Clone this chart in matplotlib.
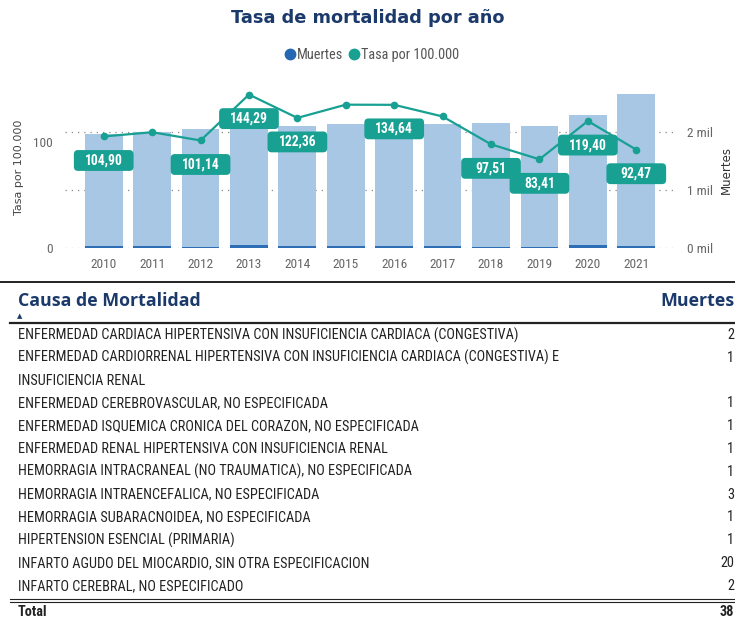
import matplotlib
matplotlib.use('Agg')
import matplotlib.pyplot as plt
import numpy as np
from matplotlib import font_manager
from matplotlib.lines import Line2D
from matplotlib.patches import FancyBboxPatch
from matplotlib.text import Text
from matplotlib.offsetbox import DrawingArea, AnnotationBbox
from matplotlib.ticker import FuncFormatter

# --- data ---
years = [2010, 2011, 2012, 2013, 2014, 2015, 2016, 2017, 2018, 2019, 2020, 2021]
muertes_total = [1966, 2005, 2060, 2110, 2103, 2145, 2140, 2145, 2155, 2103, 2293, 2655]
muertes_sel = [30, 30, 25, 45, 30, 35, 40, 35, 25, 25, 45, 30]
tasa = [104.90, 108.9, 101.14, 144.29, 122.36, 134.8, 134.64, 123.7, 97.51, 83.41, 119.40, 92.47]
years_labelled = [2010, 2012, 2013, 2014, 2016, 2018, 2019, 2020, 2021]

causas = [
    'ENFERMEDAD CARDIACA HIPERTENSIVA CON INSUFICIENCIA CARDIACA (CONGESTIVA)',
    'ENFERMEDAD CARDIORRENAL HIPERTENSIVA CON INSUFICIENCIA CARDIACA (CONGESTIVA) E\nINSUFICIENCIA RENAL',
    'ENFERMEDAD CEREBROVASCULAR, NO ESPECIFICADA',
    'ENFERMEDAD ISQUEMICA CRONICA DEL CORAZON, NO ESPECIFICADA',
    'ENFERMEDAD RENAL HIPERTENSIVA CON INSUFICIENCIA RENAL',
    'HEMORRAGIA INTRACRANEAL (NO TRAUMATICA), NO ESPECIFICADA',
    'HEMORRAGIA INTRAENCEFALICA, NO ESPECIFICADA',
    'HEMORRAGIA SUBARACNOIDEA, NO ESPECIFICADA',
    'HIPERTENSION ESENCIAL (PRIMARIA)',
    'INFARTO AGUDO DEL MIOCARDIO, SIN OTRA ESPECIFICACION',
    'INFARTO CEREBRAL, NO ESPECIFICADO',
]
muertes_causa = [2, 1, 1, 1, 1, 1, 3, 1, 1, 20, 2]
total_muertes = 38

NAVY = '#1B3A6B'
TEAL = '#18A093'
LIGHT = '#A7C7E5'
BLUE = '#2E6EB5'
GREY = '#666666'

installed = {f.name for f in font_manager.fontManager.ttflist}
narrow = next((f for f in ['Liberation Sans Narrow', 'Roboto Condensed', 'Open Sans Condensed', 'Roboto']
               if f in installed), 'DejaVu Sans')
head_font = 'Open Sans' if 'Open Sans' in installed else 'DejaVu Sans'

W, H = 735, 621
fig = plt.figure(figsize=(W / 100, H / 100), dpi=100)
renderer = fig.canvas.get_renderer()


def fx(px):
    return px / W


def fy(py):
    return 1 - py / H


def fit(s, width_px, **kw):
    # font size that makes s about width_px wide
    t = fig.text(0, 0, s, fontsize=10, **kw)
    w = t.get_window_extent(renderer).width
    t.remove()
    return 10 * width_px / w


# title + legend
fig.text(0.5, fy(18), 'Tasa de mortalidad por año', ha='center', va='center', color=NAVY,
         fontweight='bold', fontsize=fit('Tasa de mortalidad por año', 275, fontweight='bold'))
leg_size = fit('Tasa por 100.000', 98, family=narrow)
handles = [Line2D([], [], ls='', marker='o', ms=7.5, color='#2567B2'),
           Line2D([], [], ls='', marker='o', ms=7.5, color=TEAL)]
fig.legend(handles, ['Muertes', 'Tasa por 100.000'], loc='center', bbox_to_anchor=(fx(372), fy(55)),
           ncol=2, frameon=False, handlelength=0.7, handletextpad=0.15, columnspacing=0.4,
           prop={'family': narrow, 'size': leg_size}, labelcolor='#555555')

# --- combo chart ---
ax = fig.add_axes([fx(65), fy(248), fx(610), 168 / H])
ax2 = ax.twinx()
x = np.arange(len(years))

ax2.bar(x, muertes_total, width=0.78, color=LIGHT, zorder=2)
ax2.bar(x, muertes_sel, width=0.78, color=BLUE, zorder=3)
ax2.set_ylim(0, 2897)
ax2.set_yticks([0, 1000, 2000])
ax2.yaxis.set_major_formatter(FuncFormatter(lambda v, p: f'{v / 1000:.0f} mil'))
ax2.grid(axis='y', ls=(0, (1, 4)), color='#888888', lw=0.9)
ax2.set_axisbelow(True)

ax.set_zorder(ax2.get_zorder() + 1)
ax.patch.set_visible(False)
ax.plot(x, tasa, color=TEAL, lw=1.6, marker='o', ms=4.5, zorder=3)
ax.set_ylim(0, 158)
ax.set_yticks([0, 100])
ax.set_xlim(-0.8, 11.8)
ax.set_xticks(x, [str(y) for y in years])

tick_size = fit('2010', 26, family=narrow)
for a in (ax, ax2):
    for s in a.spines.values():
        s.set_visible(False)
    a.tick_params(length=0, colors=GREY, labelsize=tick_size)
    for t in a.get_xticklabels() + a.get_yticklabels():
        t.set_family(narrow)
ax.tick_params(axis='x', pad=7)
ax.tick_params(axis='y', pad=9)
ax2.tick_params(axis='y', pad=9)

fig.text(fx(19), fy(167), 'Tasa por 100.000', rotation=90, ha='center', va='center',
         color='#444444', fontsize=8, fontweight='medium')
fig.text(fx(726), fy(170), 'Muertes', rotation=90, ha='center', va='center',
         color='#333333', fontsize=8.5, fontweight='medium')


def tag(xv, yv, s):
    w, h = 43, 15
    da = DrawingArea(w, h, 0, 0)
    da.add_artist(FancyBboxPatch((0, 0), w, h, boxstyle='round,pad=0,rounding_size=3',
                                 fc=TEAL, ec='none'))
    da.add_artist(Text(w / 2, h / 2, s, ha='center', va='center', color='white',
                       fontsize=tick_size * 1.02, fontweight='bold', family=narrow))
    ab = AnnotationBbox(da, (xv, yv), xybox=(0, -17.3), boxcoords='offset points',
                        frameon=False, pad=0, zorder=5)
    ax.add_artist(ab)


for i, yr in enumerate(years):
    if yr in years_labelled:
        tag(x[i], tasa[i], f'{tasa[i]:.2f}'.replace('.', ','))

# --- table ---
def hline(y, x0, x1, lw=1.2, color='#222222'):
    fig.add_artist(Line2D([fx(x0), fx(x1)], [fy(y), fy(y)], color=color, lw=lw))


hline(282, 0, 735, lw=1.4)
head_size = fit('Causa de Mortalidad', 182, family=head_font, fontweight='bold')
fig.text(fx(18), fy(301), 'Causa de Mortalidad', ha='left', va='center', color=NAVY,
         fontweight='bold', family=head_font, fontsize=head_size)
fig.text(fx(734), fy(301), 'Muertes', ha='right', va='center', color=NAVY,
         fontweight='bold', family=head_font, fontsize=head_size)
fig.text(fx(20), fy(316), '▲', ha='center', va='center', color=NAVY, fontsize=5)
hline(323, 10, 735, lw=1.6)

row_size = fit(causas[0], 501, family=narrow)
step = 22.8
line = 0
for causa, m in zip(causas, muertes_causa):
    y0 = 335 + step * line
    fig.text(fx(734), fy(y0), str(m), ha='right', va='center', color='#222222',
             family=narrow, fontsize=row_size)
    for part in causa.split('\n'):
        fig.text(fx(18), fy(335 + step * line), part, ha='left', va='center', color='#222222',
                 family=narrow, fontsize=row_size)
        line += 1

hline(599.3, 10, 735, lw=0.8)
hline(601.9, 10, 735, lw=0.8)
fig.text(fx(18), fy(612), 'Total', ha='left', va='center', color='#222222', fontweight='bold',
         family=narrow, fontsize=row_size)
fig.text(fx(734), fy(612), str(total_muertes), ha='right', va='center', color='#222222',
         fontweight='bold', family=narrow, fontsize=row_size)

fig.savefig('out.png', dpi=100, facecolor='white')
